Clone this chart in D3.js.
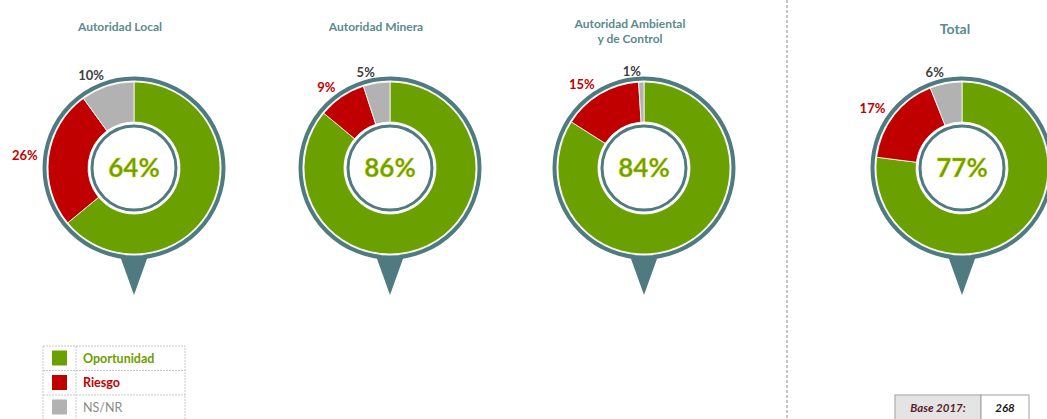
<!DOCTYPE html>
<meta charset="utf-8">
<script src="https://d3js.org/d3.v7.min.js"></script>
<style>
  body { margin: 0; background: #fff; }
  text { font-family: Lato, "Liberation Sans", sans-serif; }
</style>
<div id="chart"></div>
<script>

// data
var titles = [["Autoridad Local"], ["Autoridad Minera"], ["Autoridad Ambiental", "y de Control"], ["Total"]];
var categories = ["Oportunidad", "Riesgo", "NS/NR"];
var oportunidad = [64, 86, 84, 77];
var riesgo = [26, 9, 15, 17];
var nsnr = [10, 5, 1, 6];
var baseLabel = "Base 2017:";
var baseValue = "268";

var colors = ["#6aa000", "#c00000", "#b2b2b2"];
var labelColors = ["#6aa000", "#c00000", "#404040"];
var teal = "#4f7a80";

var W = 1047, H = 419;
var svg = d3.select("#chart").append("svg")
    .attr("width", W)
    .attr("height", H);

// horizontal placement of each donut
var xPos = d3.scaleOrdinal().domain([0, 1, 2, 3]).range([134, 390, 644, 962]);
var cy = 168;
var rOuter = 86, rInner = 46;

var pie = d3.pie().sort(null).value(d => d.v);
var arc = d3.arc().innerRadius(rInner).outerRadius(rOuter);
var labelArc = d3.arc().innerRadius(97).outerRadius(97);

// separator before the total
svg.append("line")
    .attr("x1", 787).attr("x2", 787)
    .attr("y1", 0).attr("y2", H)
    .attr("stroke", "#8a8a8a")
    .attr("stroke-width", 1)
    .attr("stroke-dasharray", "3,2");

oportunidad.forEach(function (op, i) {
    var cx = xPos(i);
    var g = svg.append("g").attr("transform", "translate(" + cx + "," + cy + ")");

    // pointer under the donut
    g.append("path")
        .attr("d", "M-14," + (rOuter + 2) + " L14," + (rOuter + 2) + " L0," + (rOuter + 41) + " Z")
        .attr("fill", teal);

    // outer ring
    g.append("circle")
        .attr("r", rOuter + 3.5)
        .attr("fill", "#fff")
        .attr("stroke", teal)
        .attr("stroke-width", 4);

    var slices = [
        {k: 0, v: op},
        {k: 1, v: riesgo[i]},
        {k: 2, v: nsnr[i]}
    ];
    var arcs = pie(slices);

    g.selectAll("path.slice")
        .data(arcs)
        .enter().append("path")
        .attr("class", "slice")
        .attr("d", arc)
        .attr("fill", d => colors[d.data.k])
        .attr("stroke", "#fff")
        .attr("stroke-width", 0.8);

    // inner circle
    g.append("circle")
        .attr("r", rInner - 4)
        .attr("fill", "#fff")
        .attr("stroke", teal)
        .attr("stroke-width", 3);

    g.append("text")
        .attr("y", 9)
        .attr("text-anchor", "middle")
        .attr("font-size", 26)
        .attr("font-weight", "bold")
        .attr("fill", colors[0])
        .attr("stroke", "#d8d000")
        .attr("stroke-width", 0.4)
        .text(op + "%");

    // outside labels for riesgo and ns/nr
    g.selectAll("text.lbl")
        .data(arcs.filter(d => d.data.k > 0))
        .enter().append("text")
        .attr("class", "lbl")
        .attr("transform", d => "translate(" + labelArc.centroid(d) + ")")
        .attr("dy", "0.35em")
        .attr("text-anchor", "end")
        .attr("font-size", 13)
        .attr("font-weight", "bold")
        .attr("fill", d => labelColors[d.data.k])
        .text(d => d.data.v + "%");

    // title
    var t = titles[i];
    var isTotal = i === 3;
    svg.append("g").selectAll("text")
        .data(t)
        .enter().append("text")
        .attr("x", cx - (isTotal ? 7 : 14))
        .attr("y", (d, j) => (isTotal ? 34 : (t.length > 1 ? 28 : 31)) + j * 15)
        .attr("text-anchor", "middle")
        .attr("font-size", isTotal ? 14 : 12)
        .attr("font-weight", "bold")
        .attr("fill", "#5b8a90")
        .text(d => d);
});

// legend table
var leg = svg.append("g").attr("transform", "translate(43,346)");
var rowH = 24.5;
var y = d3.scaleBand().domain(categories).range([0, rowH * 3]);
leg.append("rect")
    .attr("width", 142).attr("height", rowH * 3)
    .attr("fill", "none")
    .attr("stroke", "#c8c8c8")
    .attr("stroke-dasharray", "2,1");
leg.append("line")
    .attr("x1", 33).attr("x2", 33)
    .attr("y1", 0).attr("y2", rowH * 3)
    .attr("stroke", "#c8c8c8")
    .attr("stroke-dasharray", "2,1");
leg.selectAll("line.row")
    .data(categories.slice(1))
    .enter().append("line")
    .attr("class", "row")
    .attr("x1", 0).attr("x2", 142)
    .attr("y1", d => y(d)).attr("y2", d => y(d))
    .attr("stroke", "#c8c8c8")
    .attr("stroke-dasharray", "2,1");
leg.selectAll("rect.sw")
    .data(categories)
    .enter().append("rect")
    .attr("class", "sw")
    .attr("x", 9)
    .attr("y", d => y(d) + 4.5)
    .attr("width", 15).attr("height", 15)
    .attr("fill", (d, i) => colors[i]);
leg.selectAll("text")
    .data(categories)
    .enter().append("text")
    .attr("x", 40)
    .attr("y", d => y(d) + y.bandwidth() / 2)
    .attr("dy", "0.35em")
    .attr("font-size", 12.5)
    .attr("font-weight", (d, i) => i < 2 ? "bold" : "normal")
    .attr("fill", (d, i) => i < 2 ? colors[i] : "#8a8a8a")
    .text(d => d);

// base box
var base = svg.append("g").attr("transform", "translate(895,395)");
base.append("rect")
    .attr("width", 86).attr("height", 26)
    .attr("fill", "#e4e4e4")
    .attr("stroke", "#a0a0a0");
base.append("rect")
    .attr("x", 86)
    .attr("width", 48).attr("height", 26)
    .attr("fill", "#fff")
    .attr("stroke", "#a0a0a0");
base.append("text")
    .attr("x", 43).attr("y", 17)
    .attr("text-anchor", "middle")
    .attr("font-size", 11.5)
    .attr("font-weight", "bold")
    .attr("font-style", "italic")
    .attr("fill", "#5c1f2a")
    .text(baseLabel);
base.append("text")
    .attr("x", 110).attr("y", 17)
    .attr("text-anchor", "middle")
    .attr("font-size", 11.5)
    .attr("font-weight", "bold")
    .attr("font-style", "italic")
    .attr("fill", "#1a1a1a")
    .text(baseValue);

</script>
